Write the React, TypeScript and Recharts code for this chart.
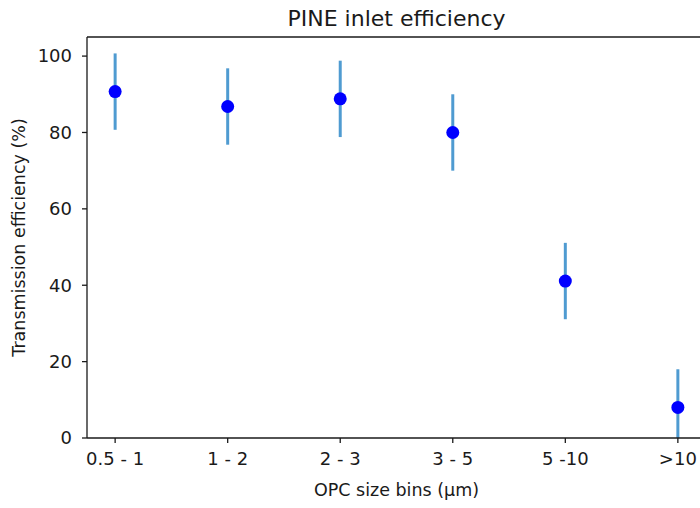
import {
  ComposedChart,
  Scatter,
  ErrorBar,
  XAxis,
  YAxis,
  ReferenceLine,
} from 'recharts';

const sizeBins = ['0.5 - 1', '1 - 2', '2 - 3', '3 - 5', '5 -10', '>10'];
const efficiency = [90.7, 86.8, 88.8, 80.0, 41.1, 8.0];
const efficiencyErr = [10, 10, 10, 10, 10, 10];
const yTicks = [0, 20, 40, 60, 80, 100];

const FONT = '"DejaVu Sans", sans-serif';
const INK = '#1a1a1a';

// error bars are cut at the bottom of the axes, like the original plot
const data = sizeBins.map((bin, i) => ({
  idx: i,
  bin,
  value: efficiency[i],
  err: [Math.min(efficiencyErr[i], efficiency[i]), efficiencyErr[i]],
}));

export default function App() {
  return (
    <div style={{ position: 'absolute', left: 0, top: 0, width: 700, height: 508, overflow: 'hidden', background: '#fff' }}>
      <ComposedChart
        width={720}
        height={508}
        data={data}
        margin={{ top: 37, right: 14, bottom: 0, left: 0 }}
        style={{ fontFamily: FONT }}
      >
        <XAxis
          type="number"
          dataKey="idx"
          domain={[-0.25, 5.25]}
          ticks={sizeBins.map((_, i) => i)}
          tickFormatter={(i) => sizeBins[i]}
          allowDataOverflow
          height={70}
          tickSize={5}
          tickMargin={9}
          stroke={INK}
          strokeWidth={1.3}
          tick={{ fill: INK, fontSize: 18, fontFamily: FONT }}
        />
        <YAxis
          type="number"
          domain={[0, 105]}
          ticks={yTicks}
          allowDataOverflow
          width={87}
          tickSize={5}
          tickMargin={10}
          stroke={INK}
          strokeWidth={1.3}
          tick={{ fill: INK, fontSize: 18, fontFamily: FONT }}
        />
        <ReferenceLine y={105} stroke={INK} strokeWidth={1.3} ifOverflow="visible" />
        <ReferenceLine x={5.25} stroke={INK} strokeWidth={1.3} ifOverflow="visible" />
        <Scatter dataKey="value" fill="#0000ff" isAnimationActive={false} shape={(p: any) => (
          <circle cx={p.cx} cy={p.cy} r={6.5} fill="#0000ff" />
        )}>
          <ErrorBar dataKey="err" direction="y" width={0} stroke="#4f9bd1" strokeWidth={3} isAnimationActive={false} />
        </Scatter>
        <text x={396.5} y={26} textAnchor="middle" fontSize={22} fontFamily={FONT} fill={INK}>
          PINE inlet efficiency
        </text>
        <text
          x={25}
          y={237.5}
          textAnchor="middle"
          fontSize={17.5}
          fontFamily={FONT}
          fill={INK}
          transform="rotate(-90, 25, 237.5)"
        >
          Transmission efficiency (%)
        </text>
        <text x={396.5} y={496} textAnchor="middle" fontSize={17.5} fontFamily={FONT} fill={INK}>
          OPC size bins (μm)
        </text>
      </ComposedChart>
    </div>
  );
}
